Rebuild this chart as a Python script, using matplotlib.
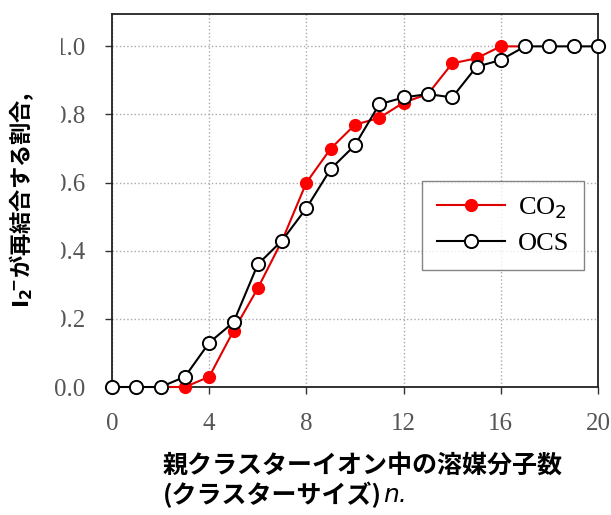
import matplotlib
matplotlib.use("Agg")
import matplotlib.pyplot as plt
from matplotlib.patches import Rectangle

plt.rcParams['font.family'] = ['Noto Sans CJK JP', 'DejaVu Sans']

# 溶媒分子数 n と I2- が再結合する割合
n_co2 = [2, 3, 4, 5, 6, 7, 8, 9, 10, 11, 12, 13, 14, 15, 16, 17]
frac_co2 = [0.0, 0.0, 0.03, 0.165, 0.29, 0.43, 0.60, 0.70, 0.77, 0.79, 0.835, 0.86, 0.95, 0.965, 1.0, 1.0]

n_ocs = [0, 1, 2, 3, 4, 5, 6, 7, 8, 9, 10, 11, 12, 13, 14, 15, 16, 17, 18, 19, 20]
frac_ocs = [0.0, 0.0, 0.0, 0.03, 0.13, 0.19, 0.36, 0.43, 0.525, 0.64, 0.71, 0.83, 0.85, 0.86, 0.85, 0.94, 0.96, 1.0, 1.0, 1.0, 1.0]

xticks = [0, 4, 8, 12, 16, 20]
yticks = [0.0, 0.2, 0.4, 0.6, 0.8, 1.0]

W, H = 611, 515
fig = plt.figure(figsize=(W / 100, H / 100), dpi=100)
ax = fig.add_axes([112 / W, 1 - 387 / H, (598 - 112) / W, (387 - 14) / H])

ax.plot(n_co2, frac_co2, '-o', color='#e00000', lw=1.5, ms=8.5,
        mfc='#ff0000', mec='#ff0000', label='CO$_2$', clip_on=False, zorder=3)
ax.plot(n_ocs, frac_ocs, '-o', color='black', lw=1.5, ms=9.5,
        mfc='white', mec='black', mew=1.4, label='OCS', clip_on=False, zorder=4)

ax.set_xlim(0, 20)
ax.set_ylim(0, 1.095)
ax.set_xticks(xticks)
ax.set_yticks(yticks)
ax.set_yticklabels(['%.1f' % v for v in yticks])
ax.grid(True, ls=':', color='#aaaaaa', lw=1.0)
ax.tick_params(direction='out', length=5, width=1, color='#333333',
               labelcolor='#555555', labelsize=18)
ax.tick_params(axis='x', pad=14)
ax.tick_params(axis='y', pad=14)
for lab in ax.get_xticklabels() + ax.get_yticklabels():
    lab.set_family('Liberation Serif')
for sp in ax.spines.values():
    sp.set_color('#222222')
    sp.set_linewidth(1.3)

leg = ax.legend(loc='upper left',
                bbox_to_anchor=((422 - 112) / (598 - 112), 1 - (181 - 14) / (387 - 14)),
                prop={'family': 'Liberation Serif', 'size': 19}, frameon=True, fancybox=False,
                edgecolor='#666666', handlelength=2.6, borderpad=0.55, labelspacing=0.4,
                handletextpad=0.5, borderaxespad=0)
leg.get_frame().set_linewidth(1.0)

# 目盛ラベルの左端が切れている部分
fig.patches.append(Rectangle((0, 1 - 355 / H), 61 / W, 320 / H, transform=fig.transFigure,
                             facecolor='white', edgecolor='none', zorder=5))

fig.text(22 / W, 1 - 200 / H, r'$\mathbf{I}_{\mathbf{2}}\!{}^{\mathbf{-}}$が再結合する割合,',
         rotation=90, ha='center', va='center', fontsize=16, fontweight='bold', zorder=6)

fig.text(163 / W, 1 - 466 / H, '親クラスターイオン中の溶媒分子数',
         ha='left', va='center', fontsize=18, fontweight='bold')
t2 = fig.text(163 / W, 1 - 495 / H, '(クラスターサイズ)',
              ha='left', va='center', fontsize=18, fontweight='bold')
fig.add_artist(plt.Annotation('n.', xy=(1, 0.5), xycoords=t2, xytext=(1, 0),
                              textcoords='offset points', va='center', ha='left',
                              fontsize=18, style='italic', family='DejaVu Sans'))

fig.savefig('out.png', dpi=100, facecolor='white')
